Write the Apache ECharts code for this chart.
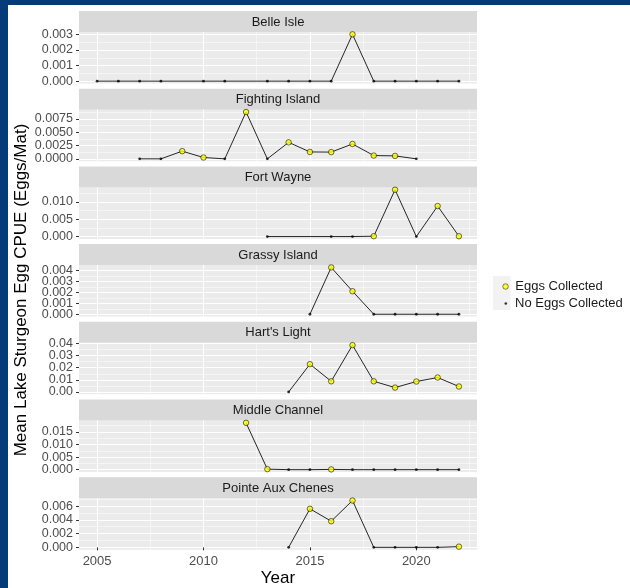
<!DOCTYPE html>
<html>
<head>
<meta charset="utf-8">
<script src="https://cdn.jsdelivr.net/npm/echarts@6/dist/echarts.min.js"></script>
<style>
  html, body { margin: 0; padding: 0; background: #fff; }
  #chart { width: 630px; height: 588px; }
</style>
</head>
<body>
<div id="chart"></div>
<script>
// survey years, one slot per year (null = not sampled)
const years = [2005, 2006, 2007, 2008, 2009, 2010, 2011, 2012, 2013, 2014, 2015, 2016, 2017, 2018, 2019, 2020, 2021, 2022];

const sites = ['Belle Isle', 'Fighting Island', 'Fort Wayne', 'Grassy Island', "Hart's Light", 'Middle Channel', 'Pointe Aux Chenes'];

// mean CPUE (eggs/mat); > 0 means eggs were collected
const belleIsle = [0, 0, 0, 0, null, 0, 0, null, 0, 0, 0, 0, 0.003, 0, 0, 0, 0, 0];
const fightingIsland = [null, null, 0, 0, 0.00145, 0.00025, 0, 0.0088, 0, 0.0031, 0.0013, 0.00127, 0.0028, 0.00062, 0.00056, 0, null, null];
const fortWayne = [null, null, null, null, null, null, null, null, 0, null, null, 0, 0, 0.0001, 0.0135, 0, 0.0088, 0.0001];
const grassyIsland = [null, null, null, null, null, null, null, null, null, null, 0, 0.00427, 0.0021, 0, 0, 0, 0, 0];
const hartsLight = [null, null, null, null, null, null, null, null, null, 0, 0.0229, 0.0088, 0.0386, 0.0088, 0.0036, 0.0086, 0.0119, 0.0045];
const middleChannel = [null, null, null, null, null, null, null, 0.0186, 0.0002, 0, 0, 0.0001, 0, 0, 0, 0, 0, 0];
const pointeAuxChenes = [null, null, null, null, null, null, null, null, null, 0, 0.0056, 0.0038, 0.0068, 0, 0, 0, 0, 0.0001];

// y tick labels per panel
const belleTicks = ['0.000', '0.001', '0.002', '0.003'];
const fightingTicks = ['0.0000', '0.0025', '0.0050', '0.0075'];
const fortTicks = ['0.000', '0.005', '0.010'];
const grassyTicks = ['0.000', '0.001', '0.002', '0.003', '0.004'];
const hartsTicks = ['0.00', '0.01', '0.02', '0.03', '0.04'];
const middleTicks = ['0.000', '0.005', '0.010', '0.015'];
const pointeTicks = ['0.000', '0.002', '0.004', '0.006'];
const yearTicks = ['2005', '2010', '2015', '2020'];

const siteValues = [belleIsle, fightingIsland, fortWayne, grassyIsland, hartsLight, middleChannel, pointeAuxChenes];
const siteTicks = [belleTicks, fightingTicks, fortTicks, grassyTicks, hartsTicks, middleTicks, pointeTicks];

const FONT = "'Liberation Sans', Arial, sans-serif";
const plotLeft = 79, plotWidth = 398;
const top0 = 11, pitch = 77.7, stripH = 21, plotH = 51.5;

// ggplot-style expansion of x range
const xSpan = years[years.length - 1] - years[0];
const xMin = years[0] - 0.05 * xSpan;
const xMax = years[years.length - 1] + 0.05 * xSpan;
const xMajor = yearTicks.map(Number);
const xMinor = xMajor.map(v => v + 2.5).filter(v => v <= xMax);

const grids = [], xAxes = [], yAxes = [], series = [], graphics = [];

sites.forEach((site, i) => {
    const vals = siteValues[i];
    const labels = siteTicks[i];
    const ticks = labels.map(Number);
    const step = ticks[1] - ticks[0];
    const m = Math.max(...vals.filter(v => v !== null));
    const yMin = -0.05 * m, yMax = 1.05 * m;
    const yMinor = ticks.map(v => v + step / 2).filter(v => v <= yMax);
    const last = i === sites.length - 1;
    const stripTop = top0 + i * pitch;

    const yLabel = (vs) => ({
        show: true, customValues: vs, margin: 6, fontSize: 12.5, color: '#4D4D4D', fontFamily: FONT,
        showMinLabel: true, showMaxLabel: true,
        formatter: v => {
            let k = 0;
            ticks.forEach((t, j) => { if (Math.abs(t - v) < Math.abs(ticks[k] - v)) k = j; });
            return labels[k];
        }
    });
    // ECharts thins crowded labels, so alternate labels go on two stacked axes
    const evenTicks = ticks.filter((t, j) => j % 2 === 0);
    const oddTicks = ticks.filter((t, j) => j % 2 === 1);

    grids.push({left: plotLeft, width: plotWidth, top: stripTop + stripH, height: plotH,
        show: true, backgroundColor: '#EBEBEB', borderWidth: 0});

    // major x
    xAxes.push({
        type: 'value', gridIndex: i, min: xMin, max: xMax, position: 'bottom',
        axisLine: {show: false},
        axisTick: {show: last, length: 3, customValues: xMajor, lineStyle: {color: '#333'}},
        axisLabel: {show: last, customValues: xMajor, margin: 5, fontSize: 13, color: '#4D4D4D', fontFamily: FONT,
            showMinLabel: true, showMaxLabel: true,
            formatter: v => yearTicks[xMajor.indexOf(v)]},
        splitLine: {show: true, lineStyle: {color: '#fff', width: 1.1}},
        name: last ? 'Year' : '', nameLocation: 'middle', nameGap: 20,
        nameTextStyle: {fontSize: 17, color: '#000', fontFamily: FONT}
    });
    // minor x
    xAxes.push({
        type: 'value', gridIndex: i, min: xMin, max: xMax, position: 'bottom',
        axisLine: {show: false},
        axisTick: {show: false, customValues: xMinor},
        axisLabel: {show: false, customValues: xMinor},
        splitLine: {show: true, lineStyle: {color: '#fff', width: 0.5}}
    });
    // major y: all ticks + grid, even labels
    yAxes.push({
        type: 'value', gridIndex: i, min: yMin, max: yMax, position: 'left', offset: 0,
        axisLine: {show: false},
        axisTick: {show: true, length: 3, interval: 0, customValues: ticks, lineStyle: {color: '#333'}},
        axisLabel: yLabel(evenTicks),
        splitLine: {show: true, lineStyle: {color: '#fff', width: 1.1}}
    });
    // minor y grid, odd labels
    yAxes.push({
        type: 'value', gridIndex: i, min: yMin, max: yMax, position: 'left', offset: 0,
        axisLine: {show: false},
        axisTick: {show: false, customValues: yMinor},
        axisLabel: yLabel(oddTicks),
        splitLine: {show: true, lineStyle: {color: '#fff', width: 0.5}}
    });

    const pts = years.map((y, j) => [y, vals[j]]).filter(p => p[1] !== null);
    series.push({
        name: site, type: 'line', xAxisIndex: 2 * i, yAxisIndex: 2 * i,
        data: pts, showSymbol: false, symbol: 'none',
        lineStyle: {color: '#262626', width: 1}, z: 3, silent: true
    });
    series.push({
        name: 'No Eggs Collected', type: 'scatter', xAxisIndex: 2 * i, yAxisIndex: 2 * i,
        data: pts.filter(p => p[1] <= 0), symbolSize: 2.8,
        itemStyle: {color: '#000'}, z: 4
    });
    series.push({
        name: 'Eggs Collected', type: 'scatter', xAxisIndex: 2 * i, yAxisIndex: 2 * i,
        data: pts.filter(p => p[1] > 0), symbolSize: 5.5,
        itemStyle: {color: '#FFFF00', borderColor: '#000', borderWidth: 0.7}, z: 5
    });

    // facet strip
    graphics.push({type: 'rect', shape: {x: plotLeft, y: stripTop, width: plotWidth, height: stripH},
        style: {fill: '#D9D9D9'}, silent: true});
    graphics.push({type: 'text', x: plotLeft + plotWidth / 2, y: stripTop + stripH / 2 + 0.5,
        style: {text: site, fontSize: 13, fontFamily: FONT, fill: '#1A1A1A', align: 'center', verticalAlign: 'middle'},
        silent: true});
});

// frame, legend key box, y title
graphics.push({type: 'rect', shape: {x: 0, y: 0, width: 630, height: 5}, style: {fill: '#063b7a'}, silent: true});
graphics.push({type: 'rect', shape: {x: 0, y: 0, width: 8, height: 588}, style: {fill: '#063b7a'}, silent: true});
graphics.push({type: 'rect', shape: {x: 493, y: 276, width: 17.5, height: 34}, style: {fill: '#F2F2F2'}, silent: true, z: -1});
graphics.push({type: 'text', x: 21, y: 290, rotation: Math.PI / 2,
    style: {text: 'Mean Lake Sturgeon Egg CPUE (Eggs/Mat)', fontSize: 17, fontFamily: FONT, fill: '#000',
        align: 'center', verticalAlign: 'middle'}, silent: true});

const chart = echarts.init(document.getElementById('chart'), null, {renderer: 'canvas'});
chart.setOption({
    animation: false,
    backgroundColor: '#fff',
    textStyle: {fontFamily: FONT},
    grid: grids,
    xAxis: xAxes,
    yAxis: yAxes,
    series: series,
    legend: [
        {data: [{name: 'Eggs Collected', itemStyle: {color: '#FFFF00', borderColor: '#000', borderWidth: 0.6}}],
            left: 497.5, top: 275, itemWidth: 5.5, itemHeight: 5.5, selectedMode: false,
            textStyle: {fontSize: 13, color: '#1A1A1A', fontFamily: FONT, padding: [0, 0, 0, 2]}},
        {data: [{name: 'No Eggs Collected', itemStyle: {color: '#000', borderWidth: 0}}],
            left: 499.5, top: 292, itemWidth: 2.6, itemHeight: 2.6, selectedMode: false,
            textStyle: {fontSize: 13, color: '#1A1A1A', fontFamily: FONT, padding: [0, 0, 0, 3]}}
    ],
    graphic: graphics
});
</script>
</body>
</html>
